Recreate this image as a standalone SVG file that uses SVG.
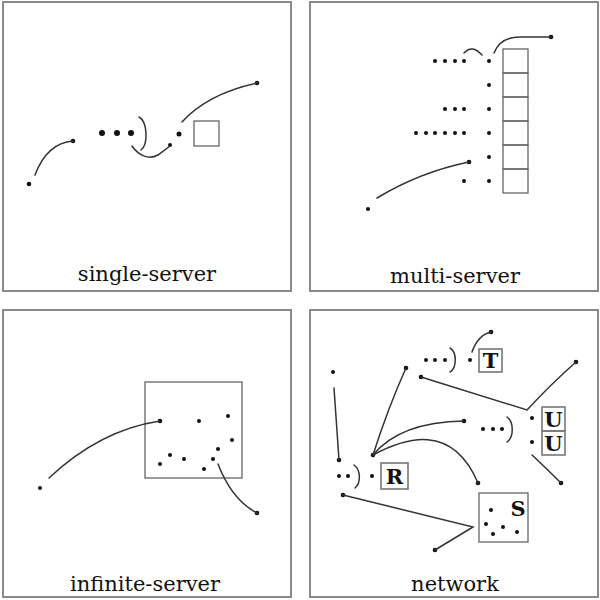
<svg xmlns="http://www.w3.org/2000/svg" width="600" height="600" viewBox="0 0 600 600">
<style>
.frame{fill:#fff;stroke:#8a8a8a;stroke-width:2}
.ln{fill:none;stroke:#333;stroke-width:1.5;stroke-linecap:round}
.box{fill:none;stroke:#666;stroke-width:1.3}
.lbox{fill:none;stroke:#777;stroke-width:1.6}
.d{fill:#111}
.cap{font-family:"DejaVu Serif","Liberation Serif",serif;font-size:21px;fill:#111;text-anchor:middle}
.big{font-family:"DejaVu Serif","Liberation Serif",serif;font-size:21px;font-weight:bold;fill:#111;text-anchor:middle}
</style>
<rect width="600" height="600" fill="#fff"/>

<g id="panel-single">
<rect class="frame" x="3" y="2" width="288" height="289"/>
<g id="ss-server"><rect class="box" x="194" y="121" width="25" height="25"/></g>
<g id="ss-dots">
<circle class="d" cx="29" cy="184" r="2.3"/>
<circle class="d" cx="73" cy="141" r="2.3"/>
<circle class="d" cx="102" cy="133" r="3"/>
<circle class="d" cx="117" cy="133" r="3"/>
<circle class="d" cx="131" cy="133" r="3"/>
<circle class="d" cx="170" cy="145" r="2"/>
<circle class="d" cx="179" cy="134" r="2.5"/>
<circle class="d" cx="257" cy="83" r="2.3"/>
</g>
<text class="cap" x="147" y="281">single-server</text>
</g>

<g id="panel-multi">
<rect class="frame" x="310" y="2" width="288" height="289"/>
<g id="ms-servers">
<rect class="box" x="503" y="49" width="25" height="24"/>
<rect class="box" x="503" y="73" width="25" height="24"/>
<rect class="box" x="503" y="97" width="25" height="24"/>
<rect class="box" x="503" y="121" width="25" height="24"/>
<rect class="box" x="503" y="145" width="25" height="24"/>
<rect class="box" x="503" y="169" width="25" height="24"/>
</g>
<g id="ms-dots">
<circle class="d" cx="489" cy="61" r="2"/>
<circle class="d" cx="489" cy="85" r="2"/>
<circle class="d" cx="489" cy="109" r="2"/>
<circle class="d" cx="489" cy="133" r="2"/>
<circle class="d" cx="489" cy="157" r="2"/>
<circle class="d" cx="489" cy="181" r="2"/>
<circle class="d" cx="435" cy="61" r="2"/><circle class="d" cx="445" cy="61" r="2"/><circle class="d" cx="455" cy="61" r="2"/><circle class="d" cx="464" cy="61" r="2"/>
<circle class="d" cx="445" cy="109" r="2"/><circle class="d" cx="455" cy="109" r="2"/><circle class="d" cx="464" cy="109" r="2"/>
<circle class="d" cx="416" cy="133" r="2"/><circle class="d" cx="426" cy="133" r="2"/><circle class="d" cx="435" cy="133" r="2"/><circle class="d" cx="445" cy="133" r="2"/><circle class="d" cx="455" cy="133" r="2"/><circle class="d" cx="464" cy="133" r="2"/>
<circle class="d" cx="464" cy="181" r="2"/>
<circle class="d" cx="469" cy="162" r="2.3"/>
<circle class="d" cx="368" cy="209" r="2"/>
<circle class="d" cx="551" cy="37" r="2.3"/>
</g>
<text class="cap" x="455" y="283">multi-server</text>
</g>

<g id="panel-infinite">
<rect class="frame" x="3" y="310" width="288" height="287"/>
<g id="is-server"><rect class="box" x="145" y="382" width="97" height="96"/></g>
<g id="is-dots">
<circle class="d" cx="40" cy="488" r="2"/>
<circle class="d" cx="160" cy="421" r="2.3"/>
<circle class="d" cx="199" cy="421" r="2"/>
<circle class="d" cx="228" cy="416" r="2"/>
<circle class="d" cx="232" cy="440" r="2"/>
<circle class="d" cx="218" cy="449" r="2"/>
<circle class="d" cx="170" cy="455" r="2"/>
<circle class="d" cx="184" cy="459" r="2"/>
<circle class="d" cx="160" cy="464" r="2"/>
<circle class="d" cx="213" cy="459" r="2"/>
<circle class="d" cx="204" cy="469" r="2"/>
<circle class="d" cx="257" cy="513" r="2.3"/>
</g>
<text class="cap" x="145" y="591">infinite-server</text>
</g>

<g id="panel-network">
<rect class="frame" x="310" y="310" width="288" height="287"/>
<g id="node-T">
<rect class="lbox" x="479" y="349" width="23" height="23"/>
<text class="big" x="490.5" y="368">T</text>
</g>
<g id="node-U1">
<rect class="lbox" x="542" y="407" width="23" height="24"/>
<text class="big" x="553.5" y="427">U</text>
</g>
<g id="node-U2">
<rect class="lbox" x="542" y="431" width="23" height="24"/>
<text class="big" x="553.5" y="451">U</text>
</g>
<g id="node-R">
<rect class="lbox" x="381" y="463" width="27" height="26"/>
<text class="big" x="394.5" y="484">R</text>
</g>
<g id="node-S">
<rect class="box" x="479" y="493" width="49" height="49"/>
<text class="big" x="518" y="516">S</text>
<circle class="d" cx="491" cy="510" r="2"/>
<circle class="d" cx="486" cy="524" r="2"/>
<circle class="d" cx="503" cy="527" r="2"/>
<circle class="d" cx="493" cy="534" r="2"/>
<circle class="d" cx="517" cy="532" r="2"/>
</g>
<g id="nw-dots">
<circle class="d" cx="333" cy="372" r="2"/>
<circle class="d" cx="339" cy="460" r="2.3"/>
<circle class="d" cx="373" cy="455" r="2.3"/>
<circle class="d" cx="406" cy="368" r="2.3"/>
<circle class="d" cx="464" cy="421" r="2.3"/>
<circle class="d" cx="478" cy="483" r="2.3"/>
<circle class="d" cx="343" cy="495" r="2.3"/>
<circle class="d" cx="435" cy="550" r="2.3"/>
<circle class="d" cx="421" cy="377" r="2.3"/>
<circle class="d" cx="576" cy="362" r="2.3"/>
<circle class="d" cx="491" cy="332" r="2.3"/>
<circle class="d" cx="561" cy="483" r="2.3"/>
<circle class="d" cx="426" cy="360" r="2"/><circle class="d" cx="435" cy="360" r="2"/><circle class="d" cx="445" cy="360" r="2"/>
<circle class="d" cx="470" cy="360" r="2"/>
<circle class="d" cx="483" cy="429" r="2"/><circle class="d" cx="493" cy="429" r="2"/><circle class="d" cx="502" cy="429" r="2"/>
<circle class="d" cx="532" cy="418" r="2"/><circle class="d" cx="532" cy="442" r="2"/>
<circle class="d" cx="339" cy="476" r="2"/><circle class="d" cx="348" cy="476" r="2"/>
<circle class="d" cx="372" cy="476" r="2"/>
</g>
<text class="cap" x="455" y="591">network</text>
</g>

<g id="connectors">
<path class="ln" d="M35,175 Q47,143 73,141"/>
<path class="ln" d="M139,117 C148,122 148,145 141,150"/>
<path class="ln" d="M132,146 C139,156 149,160 158,155 L170,146"/>
<path class="ln" d="M182,122 C200,102 225,90 257,83"/>
<path class="ln" d="M464,53 Q472,44 482,55"/>
<path class="ln" d="M494,53 Q500,37 520,37 L551,37"/>
<path class="ln" d="M377,198 Q420,172 469,162"/>
<path class="ln" d="M49,478 Q100,430 160,421"/>
<path class="ln" d="M218,464 Q232,500 257,513"/>
<path class="ln" d="M334,388 L339,460"/>
<path class="ln" d="M373,455 Q388,408 406,368"/>
<path class="ln" d="M373,455 Q400,422 464,421"/>
<path class="ln" d="M373,455 C405,438 452,422 478,483"/>
<path class="ln" d="M343,495 L473,527 L435,550"/>
<path class="ln" d="M421,377 L527,410 Q550,385 576,362"/>
<path class="ln" d="M472,352 Q478,335 491,332"/>
<path class="ln" d="M532,455 Q548,470 561,483"/>
<path class="ln" d="M450,348 C457,352 457,368 450,372"/>
<path class="ln" d="M507,417 C514,422 514,437 507,442"/>
<path class="ln" d="M354,465 C361,470 361,483 355,488"/>
</g>
</svg>
